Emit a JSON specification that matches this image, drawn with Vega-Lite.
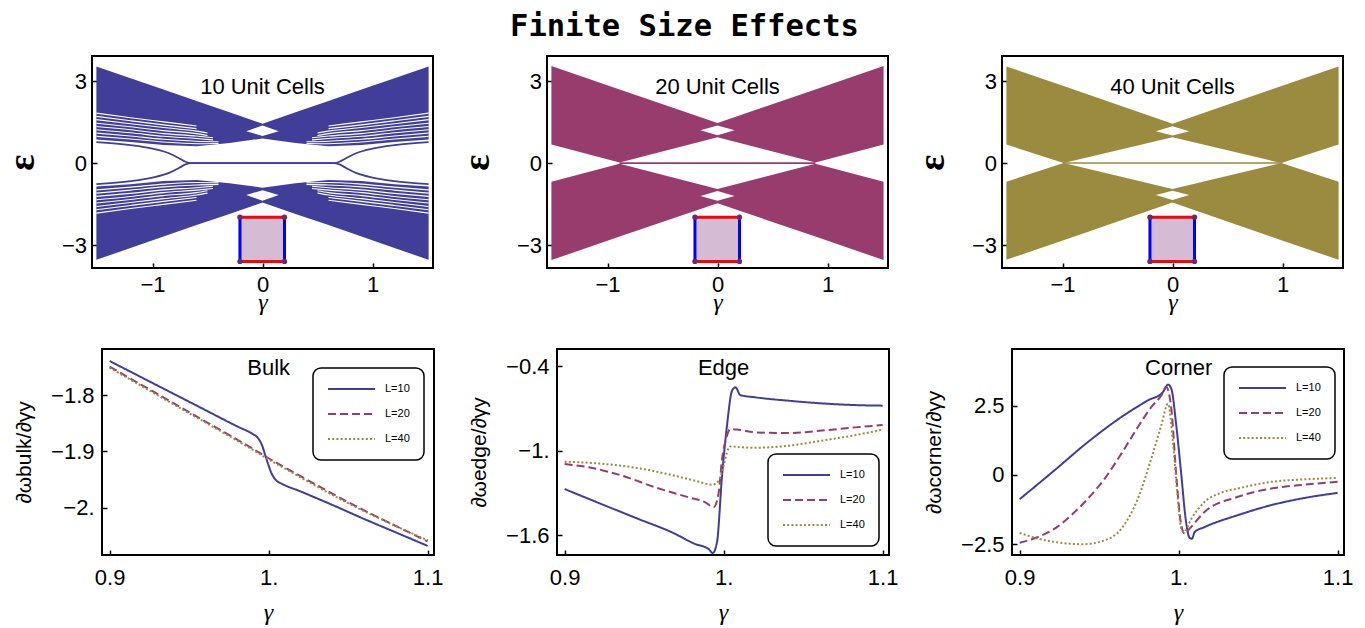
{
"$schema": "https://vega.github.io/schema/vega-lite/v6.json",
"padding": {"left": 0, "top": 11, "right": 5, "bottom": 2},
"title": {"text": "Finite Size Effects", "font": "DejaVu Sans Mono", "fontSize": 30.5, "fontWeight": "bold", "color": "black", "anchor": "middle", "frame": "bounds", "dx": 7.5, "offset": -11, "baseline": "alphabetic"},
"config": {
 "view": {"stroke": "black", "strokeWidth": 2},
 "font": "Liberation Sans",
 "axis": {"domain": false, "grid": false, "ticks": true, "tickSize": -5, "tickColor": "black", "tickWidth": 1.5, "labelColor": "black", "labelFont": "Liberation Sans", "labelFontSize": 22, "labelFlush": false, "labelOverlap": false, "titleColor": "black"},
 "text": {"font": "Liberation Sans", "color": "black"}
},
"datasets": {
 "p1": [
  {"k":"b","p":"u","x":-1.51,"y":3.54,"y2":0.86},{"k":"b","p":"u","x":-1.2,"y":3.11,"y2":0.77},{"k":"b","p":"u","x":-0.9,"y":2.69,"y2":0.66},{"k":"b","p":"u","x":-0.6,"y":2.27,"y2":0.62},{"k":"b","p":"u","x":-0.3,"y":1.86,"y2":0.74},{"k":"b","p":"u","x":0,"y":1.44,"y2":0.9},{"k":"b","p":"u","x":0.3,"y":1.86,"y2":0.74},{"k":"b","p":"u","x":0.6,"y":2.27,"y2":0.62},{"k":"b","p":"u","x":0.9,"y":2.69,"y2":0.66},{"k":"b","p":"u","x":1.2,"y":3.11,"y2":0.77},{"k":"b","p":"u","x":1.51,"y":3.54,"y2":0.86},
  {"k":"b","p":"l","x":-1.51,"y":-0.86,"y2":-3.54},{"k":"b","p":"l","x":-1.2,"y":-0.77,"y2":-3.11},{"k":"b","p":"l","x":-0.9,"y":-0.66,"y2":-2.69},{"k":"b","p":"l","x":-0.6,"y":-0.62,"y2":-2.27},{"k":"b","p":"l","x":-0.3,"y":-0.74,"y2":-1.86},{"k":"b","p":"l","x":0,"y":-0.9,"y2":-1.44},{"k":"b","p":"l","x":0.3,"y":-0.74,"y2":-1.86},{"k":"b","p":"l","x":0.6,"y":-0.62,"y2":-2.27},{"k":"b","p":"l","x":0.9,"y":-0.66,"y2":-2.69},{"k":"b","p":"l","x":1.2,"y":-0.77,"y2":-3.11},{"k":"b","p":"l","x":1.51,"y":-0.86,"y2":-3.54},
  {"k":"h","p":"u","x":-0.148,"y":1.17,"y2":1.17},{"k":"h","p":"u","x":0,"y":1.38,"y2":0.99},{"k":"h","p":"u","x":0.148,"y":1.17,"y2":1.17},
  {"k":"h","p":"l","x":-0.148,"y":-1.17,"y2":-1.17},{"k":"h","p":"l","x":0,"y":-0.99,"y2":-1.38},{"k":"h","p":"l","x":0.148,"y":-1.17,"y2":-1.17},
  {"k":"e","p":"eu","x":-1.51,"y":0.77},{"k":"e","p":"eu","x":-1.2,"y":0.66},{"k":"e","p":"eu","x":-1.0,"y":0.53},{"k":"e","p":"eu","x":-0.85,"y":0.36},{"k":"e","p":"eu","x":-0.76,"y":0.18},{"k":"e","p":"eu","x":-0.7,"y":0.05},{"k":"e","p":"eu","x":-0.65,"y":0},{"k":"e","p":"eu","x":0.65,"y":0},{"k":"e","p":"eu","x":0.7,"y":0.05},{"k":"e","p":"eu","x":0.76,"y":0.18},{"k":"e","p":"eu","x":0.85,"y":0.36},{"k":"e","p":"eu","x":1.0,"y":0.53},{"k":"e","p":"eu","x":1.2,"y":0.66},{"k":"e","p":"eu","x":1.51,"y":0.77},
  {"k":"e","p":"el","x":-1.51,"y":-0.77},{"k":"e","p":"el","x":-1.2,"y":-0.66},{"k":"e","p":"el","x":-1.0,"y":-0.53},{"k":"e","p":"el","x":-0.85,"y":-0.36},{"k":"e","p":"el","x":-0.76,"y":-0.18},{"k":"e","p":"el","x":-0.7,"y":-0.05},{"k":"e","p":"el","x":-0.65,"y":0},{"k":"e","p":"el","x":0.65,"y":0},{"k":"e","p":"el","x":0.7,"y":-0.05},{"k":"e","p":"el","x":0.76,"y":-0.18},{"k":"e","p":"el","x":0.85,"y":-0.36},{"k":"e","p":"el","x":1.0,"y":-0.53},{"k":"e","p":"el","x":1.2,"y":-0.66},{"k":"e","p":"el","x":1.51,"y":-0.77},
  {"k":"g","p":"a0","x":-1.51,"y":1.83},{"k":"g","p":"a0","x":-1.2,"y":1.66},{"k":"g","p":"a0","x":-0.9,"y":1.51},{"k":"g","p":"a0","x":-0.6,"y":1.36},
  {"k":"g","p":"a1","x":-1.51,"y":1.71},{"k":"g","p":"a1","x":-1.2,"y":1.55},{"k":"g","p":"a1","x":-0.9,"y":1.4},{"k":"g","p":"a1","x":-0.6,"y":1.26},
  {"k":"g","p":"a2","x":-1.51,"y":1.59},{"k":"g","p":"a2","x":-1.2,"y":1.44},{"k":"g","p":"a2","x":-0.9,"y":1.3},{"k":"g","p":"a2","x":-0.6,"y":1.17},{"k":"g","p":"a2","x":-0.5,"y":1.1},
  {"k":"g","p":"a3","x":-1.51,"y":1.46},{"k":"g","p":"a3","x":-1.2,"y":1.33},{"k":"g","p":"a3","x":-0.9,"y":1.19},{"k":"g","p":"a3","x":-0.6,"y":1.08},{"k":"g","p":"a3","x":-0.5,"y":1.01},
  {"k":"g","p":"a4","x":-1.51,"y":1.34},{"k":"g","p":"a4","x":-1.2,"y":1.22},{"k":"g","p":"a4","x":-0.9,"y":1.08},{"k":"g","p":"a4","x":-0.6,"y":0.99},{"k":"g","p":"a4","x":-0.45,"y":0.93},
  {"k":"g","p":"a5","x":-1.51,"y":1.22},{"k":"g","p":"a5","x":-1.2,"y":1.11},{"k":"g","p":"a5","x":-0.9,"y":0.98},{"k":"g","p":"a5","x":-0.6,"y":0.9},{"k":"g","p":"a5","x":-0.45,"y":0.85},
  {"k":"g","p":"a6","x":-1.51,"y":1.1},{"k":"g","p":"a6","x":-1.2,"y":0.99},{"k":"g","p":"a6","x":-0.9,"y":0.87},{"k":"g","p":"a6","x":-0.6,"y":0.8},{"k":"g","p":"a6","x":-0.4,"y":0.78},
  {"k":"g","p":"a7","x":-1.51,"y":0.98},{"k":"g","p":"a7","x":-1.2,"y":0.88},{"k":"g","p":"a7","x":-0.9,"y":0.77},{"k":"g","p":"a7","x":-0.6,"y":0.71},{"k":"g","p":"a7","x":-0.4,"y":0.72},
  {"k":"g","p":"b0","x":1.51,"y":1.83},{"k":"g","p":"b0","x":1.2,"y":1.66},{"k":"g","p":"b0","x":0.9,"y":1.51},{"k":"g","p":"b0","x":0.6,"y":1.36},
  {"k":"g","p":"b1","x":1.51,"y":1.71},{"k":"g","p":"b1","x":1.2,"y":1.55},{"k":"g","p":"b1","x":0.9,"y":1.4},{"k":"g","p":"b1","x":0.6,"y":1.26},
  {"k":"g","p":"b2","x":1.51,"y":1.59},{"k":"g","p":"b2","x":1.2,"y":1.44},{"k":"g","p":"b2","x":0.9,"y":1.3},{"k":"g","p":"b2","x":0.6,"y":1.17},{"k":"g","p":"b2","x":0.5,"y":1.1},
  {"k":"g","p":"b3","x":1.51,"y":1.46},{"k":"g","p":"b3","x":1.2,"y":1.33},{"k":"g","p":"b3","x":0.9,"y":1.19},{"k":"g","p":"b3","x":0.6,"y":1.08},{"k":"g","p":"b3","x":0.5,"y":1.01},
  {"k":"g","p":"b4","x":1.51,"y":1.34},{"k":"g","p":"b4","x":1.2,"y":1.22},{"k":"g","p":"b4","x":0.9,"y":1.08},{"k":"g","p":"b4","x":0.6,"y":0.99},{"k":"g","p":"b4","x":0.45,"y":0.93},
  {"k":"g","p":"b5","x":1.51,"y":1.22},{"k":"g","p":"b5","x":1.2,"y":1.11},{"k":"g","p":"b5","x":0.9,"y":0.98},{"k":"g","p":"b5","x":0.6,"y":0.9},{"k":"g","p":"b5","x":0.45,"y":0.85},
  {"k":"g","p":"b6","x":1.51,"y":1.1},{"k":"g","p":"b6","x":1.2,"y":0.99},{"k":"g","p":"b6","x":0.9,"y":0.87},{"k":"g","p":"b6","x":0.6,"y":0.8},{"k":"g","p":"b6","x":0.4,"y":0.78},
  {"k":"g","p":"b7","x":1.51,"y":0.98},{"k":"g","p":"b7","x":1.2,"y":0.88},{"k":"g","p":"b7","x":0.9,"y":0.77},{"k":"g","p":"b7","x":0.6,"y":0.71},{"k":"g","p":"b7","x":0.4,"y":0.72},
  {"k":"g","p":"c0","x":-1.51,"y":-1.83},{"k":"g","p":"c0","x":-1.2,"y":-1.66},{"k":"g","p":"c0","x":-0.9,"y":-1.51},{"k":"g","p":"c0","x":-0.6,"y":-1.36},
  {"k":"g","p":"c1","x":-1.51,"y":-1.71},{"k":"g","p":"c1","x":-1.2,"y":-1.55},{"k":"g","p":"c1","x":-0.9,"y":-1.4},{"k":"g","p":"c1","x":-0.6,"y":-1.26},
  {"k":"g","p":"c2","x":-1.51,"y":-1.59},{"k":"g","p":"c2","x":-1.2,"y":-1.44},{"k":"g","p":"c2","x":-0.9,"y":-1.3},{"k":"g","p":"c2","x":-0.6,"y":-1.17},{"k":"g","p":"c2","x":-0.5,"y":-1.1},
  {"k":"g","p":"c3","x":-1.51,"y":-1.46},{"k":"g","p":"c3","x":-1.2,"y":-1.33},{"k":"g","p":"c3","x":-0.9,"y":-1.19},{"k":"g","p":"c3","x":-0.6,"y":-1.08},{"k":"g","p":"c3","x":-0.5,"y":-1.01},
  {"k":"g","p":"c4","x":-1.51,"y":-1.34},{"k":"g","p":"c4","x":-1.2,"y":-1.22},{"k":"g","p":"c4","x":-0.9,"y":-1.08},{"k":"g","p":"c4","x":-0.6,"y":-0.99},{"k":"g","p":"c4","x":-0.45,"y":-0.93},
  {"k":"g","p":"c5","x":-1.51,"y":-1.22},{"k":"g","p":"c5","x":-1.2,"y":-1.11},{"k":"g","p":"c5","x":-0.9,"y":-0.98},{"k":"g","p":"c5","x":-0.6,"y":-0.9},{"k":"g","p":"c5","x":-0.45,"y":-0.85},
  {"k":"g","p":"c6","x":-1.51,"y":-1.1},{"k":"g","p":"c6","x":-1.2,"y":-0.99},{"k":"g","p":"c6","x":-0.9,"y":-0.87},{"k":"g","p":"c6","x":-0.6,"y":-0.8},{"k":"g","p":"c6","x":-0.4,"y":-0.78},
  {"k":"g","p":"c7","x":-1.51,"y":-0.98},{"k":"g","p":"c7","x":-1.2,"y":-0.88},{"k":"g","p":"c7","x":-0.9,"y":-0.77},{"k":"g","p":"c7","x":-0.6,"y":-0.71},{"k":"g","p":"c7","x":-0.4,"y":-0.72},
  {"k":"g","p":"d0","x":1.51,"y":-1.83},{"k":"g","p":"d0","x":1.2,"y":-1.66},{"k":"g","p":"d0","x":0.9,"y":-1.51},{"k":"g","p":"d0","x":0.6,"y":-1.36},
  {"k":"g","p":"d1","x":1.51,"y":-1.71},{"k":"g","p":"d1","x":1.2,"y":-1.55},{"k":"g","p":"d1","x":0.9,"y":-1.4},{"k":"g","p":"d1","x":0.6,"y":-1.26},
  {"k":"g","p":"d2","x":1.51,"y":-1.59},{"k":"g","p":"d2","x":1.2,"y":-1.44},{"k":"g","p":"d2","x":0.9,"y":-1.3},{"k":"g","p":"d2","x":0.6,"y":-1.17},{"k":"g","p":"d2","x":0.5,"y":-1.1},
  {"k":"g","p":"d3","x":1.51,"y":-1.46},{"k":"g","p":"d3","x":1.2,"y":-1.33},{"k":"g","p":"d3","x":0.9,"y":-1.19},{"k":"g","p":"d3","x":0.6,"y":-1.08},{"k":"g","p":"d3","x":0.5,"y":-1.01},
  {"k":"g","p":"d4","x":1.51,"y":-1.34},{"k":"g","p":"d4","x":1.2,"y":-1.22},{"k":"g","p":"d4","x":0.9,"y":-1.08},{"k":"g","p":"d4","x":0.6,"y":-0.99},{"k":"g","p":"d4","x":0.45,"y":-0.93},
  {"k":"g","p":"d5","x":1.51,"y":-1.22},{"k":"g","p":"d5","x":1.2,"y":-1.11},{"k":"g","p":"d5","x":0.9,"y":-0.98},{"k":"g","p":"d5","x":0.6,"y":-0.9},{"k":"g","p":"d5","x":0.45,"y":-0.85},
  {"k":"g","p":"d6","x":1.51,"y":-1.1},{"k":"g","p":"d6","x":1.2,"y":-0.99},{"k":"g","p":"d6","x":0.9,"y":-0.87},{"k":"g","p":"d6","x":0.6,"y":-0.8},{"k":"g","p":"d6","x":0.4,"y":-0.78},
  {"k":"g","p":"d7","x":1.51,"y":-0.98},{"k":"g","p":"d7","x":1.2,"y":-0.88},{"k":"g","p":"d7","x":0.9,"y":-0.77},{"k":"g","p":"d7","x":0.6,"y":-0.71},{"k":"g","p":"d7","x":0.4,"y":-0.72}
 ],
 "p2": [
  {"k":"b","p":"u","x":-1.51,"y":3.55,"y2":0.68},{"k":"b","p":"u","x":-0.89,"y":2.69,"y2":0.02},{"k":"b","p":"u","x":0,"y":1.47,"y2":0.95},{"k":"b","p":"u","x":0.89,"y":2.69,"y2":0.02},{"k":"b","p":"u","x":1.51,"y":3.55,"y2":0.68},
  {"k":"b","p":"l","x":-1.51,"y":-0.68,"y2":-3.55},{"k":"b","p":"l","x":-0.89,"y":-0.02,"y2":-2.69},{"k":"b","p":"l","x":0,"y":-0.95,"y2":-1.47},{"k":"b","p":"l","x":0.89,"y":-0.02,"y2":-2.69},{"k":"b","p":"l","x":1.51,"y":-0.68,"y2":-3.55},
  {"k":"h","p":"u","x":-0.155,"y":1.2,"y2":1.2},{"k":"h","p":"u","x":0,"y":1.38,"y2":1.02},{"k":"h","p":"u","x":0.155,"y":1.2,"y2":1.2},
  {"k":"h","p":"l","x":-0.155,"y":-1.2,"y2":-1.2},{"k":"h","p":"l","x":0,"y":-1.02,"y2":-1.38},{"k":"h","p":"l","x":0.155,"y":-1.2,"y2":-1.2},
  {"k":"e","p":"z","x":-0.89,"y":0},{"k":"e","p":"z","x":0.89,"y":0}
 ],
 "p3": [
  {"k":"b","p":"u","x":-1.51,"y":3.54,"y2":0.68},{"k":"b","p":"u","x":-0.99,"y":2.82,"y2":0},{"k":"b","p":"u","x":0,"y":1.44,"y2":0.95},{"k":"b","p":"u","x":0.99,"y":2.82,"y2":0},{"k":"b","p":"u","x":1.51,"y":3.54,"y2":0.68},
  {"k":"b","p":"l","x":-1.51,"y":-0.68,"y2":-3.54},{"k":"b","p":"l","x":-0.99,"y":0,"y2":-2.82},{"k":"b","p":"l","x":0,"y":-0.95,"y2":-1.44},{"k":"b","p":"l","x":0.99,"y":0,"y2":-2.82},{"k":"b","p":"l","x":1.51,"y":-0.68,"y2":-3.54},
  {"k":"h","p":"u","x":-0.152,"y":1.17,"y2":1.17},{"k":"h","p":"u","x":0,"y":1.35,"y2":1.01},{"k":"h","p":"u","x":0.152,"y":1.17,"y2":1.17},
  {"k":"h","p":"l","x":-0.152,"y":-1.17,"y2":-1.17},{"k":"h","p":"l","x":0,"y":-1.01,"y2":-1.35},{"k":"h","p":"l","x":0.152,"y":-1.17,"y2":-1.17},
  {"k":"e","p":"z","x":-0.99,"y":0},{"k":"e","p":"z","x":0.99,"y":0}
 ],
 "corners": [{"cx":-0.205,"cy":-1.98},{"cx":0.2,"cy":-1.98},{"cx":-0.205,"cy":-3.6},{"cx":0.2,"cy":-3.6}],
 "bulk": [
  {"L":"L=10","g":0.9,"v":-1.739},{"L":"L=10","g":0.92,"v":-1.768},{"L":"L=10","g":0.94,"v":-1.797},{"L":"L=10","g":0.96,"v":-1.826},{"L":"L=10","g":0.98,"v":-1.855},{"L":"L=10","g":0.99,"v":-1.869},{"L":"L=10","g":0.993,"v":-1.875},{"L":"L=10","g":0.996,"v":-1.89},{"L":"L=10","g":0.998,"v":-1.908},{"L":"L=10","g":1.0,"v":-1.925},{"L":"L=10","g":1.002,"v":-1.94},{"L":"L=10","g":1.005,"v":-1.952},{"L":"L=10","g":1.008,"v":-1.957},{"L":"L=10","g":1.02,"v":-1.971},{"L":"L=10","g":1.04,"v":-1.995},{"L":"L=10","g":1.06,"v":-2.02},{"L":"L=10","g":1.08,"v":-2.044},{"L":"L=10","g":1.1,"v":-2.068},
  {"L":"L=20","g":0.9,"v":-1.749},{"L":"L=20","g":0.95,"v":-1.83},{"L":"L=20","g":0.99,"v":-1.895},{"L":"L=20","g":1.0,"v":-1.912},{"L":"L=20","g":1.01,"v":-1.928},{"L":"L=20","g":1.05,"v":-1.99},{"L":"L=20","g":1.1,"v":-2.06},
  {"L":"L=40","g":0.9,"v":-1.751},{"L":"L=40","g":0.95,"v":-1.832},{"L":"L=40","g":0.99,"v":-1.897},{"L":"L=40","g":1.0,"v":-1.914},{"L":"L=40","g":1.01,"v":-1.93},{"L":"L=40","g":1.05,"v":-1.992},{"L":"L=40","g":1.1,"v":-2.058}
 ],
 "edge": [
  {"L":"L=10","g":0.9,"v":-1.272},{"L":"L=10","g":0.9256,"v":-1.39},{"L":"L=10","g":0.9466,"v":-1.485},{"L":"L=10","g":0.9675,"v":-1.579},{"L":"L=10","g":0.9822,"v":-1.662},{"L":"L=10","g":0.9906,"v":-1.697},{"L":"L=10","g":0.9931,"v":-1.726},{"L":"L=10","g":0.9958,"v":-1.65},{"L":"L=10","g":0.999,"v":-1.177},{"L":"L=10","g":1.0021,"v":-0.823},{"L":"L=10","g":1.0053,"v":-0.575},{"L":"L=10","g":1.0074,"v":-0.551},{"L":"L=10","g":1.0105,"v":-0.606},{"L":"L=10","g":1.0199,"v":-0.622},{"L":"L=10","g":1.0408,"v":-0.646},{"L":"L=10","g":1.0618,"v":-0.665},{"L":"L=10","g":1.0828,"v":-0.677},{"L":"L=10","g":1.1,"v":-0.681},
  {"L":"L=20","g":0.9,"v":-1.095},{"L":"L=20","g":0.9151,"v":-1.118},{"L":"L=20","g":0.936,"v":-1.177},{"L":"L=20","g":0.957,"v":-1.26},{"L":"L=20","g":0.978,"v":-1.331},{"L":"L=20","g":0.9885,"v":-1.366},{"L":"L=20","g":0.9937,"v":-1.402},{"L":"L=20","g":0.9969,"v":-1.296},{"L":"L=20","g":0.999,"v":-1.059},{"L":"L=20","g":1.0015,"v":-0.918},{"L":"L=20","g":1.0042,"v":-0.847},{"L":"L=20","g":1.0094,"v":-0.851},{"L":"L=20","g":1.0199,"v":-0.87},{"L":"L=20","g":1.0408,"v":-0.875},{"L":"L=20","g":1.0618,"v":-0.858},{"L":"L=20","g":1.0828,"v":-0.835},{"L":"L=20","g":1.1,"v":-0.819},
  {"L":"L=40","g":0.9,"v":-1.078},{"L":"L=40","g":0.9256,"v":-1.095},{"L":"L=40","g":0.9466,"v":-1.125},{"L":"L=40","g":0.9675,"v":-1.173},{"L":"L=40","g":0.9822,"v":-1.213},{"L":"L=40","g":0.9927,"v":-1.241},{"L":"L=40","g":0.9969,"v":-1.213},{"L":"L=40","g":1.0,"v":-1.106},{"L":"L=40","g":1.0021,"v":-1.012},{"L":"L=40","g":1.0042,"v":-0.97},{"L":"L=40","g":1.0094,"v":-0.975},{"L":"L=40","g":1.0199,"v":-0.979},{"L":"L=40","g":1.0408,"v":-0.965},{"L":"L=40","g":1.0618,"v":-0.929},{"L":"L=40","g":1.0828,"v":-0.89},{"L":"L=40","g":1.1,"v":-0.851}
 ],
 "corner": [
  {"L":"L=10","g":0.9,"v":-0.876},{"L":"L=10","g":0.922,"v":0.17},{"L":"L=10","g":0.943,"v":1.19},{"L":"L=10","g":0.964,"v":2.09},{"L":"L=10","g":0.9807,"v":2.69},{"L":"L=10","g":0.9901,"v":2.99},{"L":"L=10","g":0.9933,"v":3.26},{"L":"L=10","g":0.9954,"v":3.11},{"L":"L=10","g":0.9985,"v":1.79},{"L":"L=10","g":1.0017,"v":-0.01},{"L":"L=10","g":1.0044,"v":-1.58},{"L":"L=10","g":1.0069,"v":-2.27},{"L":"L=10","g":1.0084,"v":-2.3},{"L":"L=10","g":1.0101,"v":-2.06},{"L":"L=10","g":1.0164,"v":-1.88},{"L":"L=10","g":1.0373,"v":-1.45},{"L":"L=10","g":1.0583,"v":-1.09},{"L":"L=10","g":1.0793,"v":-0.83},{"L":"L=10","g":1.1,"v":-0.65},
  {"L":"L=20","g":0.9,"v":-2.45},{"L":"L=20","g":0.9115,"v":-2.24},{"L":"L=20","g":0.922,"v":-1.94},{"L":"L=20","g":0.9325,"v":-1.45},{"L":"L=20","g":0.943,"v":-0.85},{"L":"L=20","g":0.9535,"v":-0.13},{"L":"L=20","g":0.964,"v":0.77},{"L":"L=20","g":0.9744,"v":1.73},{"L":"L=20","g":0.9828,"v":2.45},{"L":"L=20","g":0.9891,"v":2.87},{"L":"L=20","g":0.9922,"v":3.17},{"L":"L=20","g":0.9954,"v":2.39},{"L":"L=20","g":0.9985,"v":-0.01},{"L":"L=20","g":1.0013,"v":-1.69},{"L":"L=20","g":1.0038,"v":-2.12},{"L":"L=20","g":1.0069,"v":-1.94},{"L":"L=20","g":1.0164,"v":-1.33},{"L":"L=20","g":1.0373,"v":-0.79},{"L":"L=20","g":1.0583,"v":-0.49},{"L":"L=20","g":1.0793,"v":-0.35},{"L":"L=20","g":1.1,"v":-0.25},
  {"L":"L=40","g":0.9,"v":-2.09},{"L":"L=40","g":0.9115,"v":-2.3},{"L":"L=40","g":0.922,"v":-2.42},{"L":"L=40","g":0.94,"v":-2.5},{"L":"L=40","g":0.9535,"v":-2.36},{"L":"L=40","g":0.964,"v":-1.94},{"L":"L=40","g":0.9744,"v":-0.85},{"L":"L=40","g":0.9828,"v":0.59},{"L":"L=40","g":0.9891,"v":1.79},{"L":"L=40","g":0.9933,"v":2.57},{"L":"L=40","g":0.9964,"v":1.19},{"L":"L=40","g":0.9991,"v":-0.61},{"L":"L=40","g":1.0017,"v":-1.94},{"L":"L=40","g":1.0034,"v":-2.06},{"L":"L=40","g":1.008,"v":-1.58},{"L":"L=40","g":1.0164,"v":-0.97},{"L":"L=40","g":1.0268,"v":-0.64},{"L":"L=40","g":1.0373,"v":-0.49},{"L":"L=40","g":1.0583,"v":-0.25},{"L":"L=40","g":1.0793,"v":-0.16},{"L":"L=40","g":1.1,"v":-0.11}
 ]
},
"vconcat": [
 {"hconcat": [
  {"width": 91.5, "height": 262, "view": {"stroke": null}, "data": {"values": [{}]}, "mark": {"type": "point", "opacity": 0}},
  {"hconcat": [
  {"width": 341, "height": 212, "data": {"name": "p1"},
   "layer": [
    {"transform": [{"filter": "datum.k == 'b'"}], "mark": {"type": "area", "color": "#403e98", "clip": true},
     "encoding": {
      "x": {"field": "x", "type": "quantitative", "scale": {"domain": [-1.55, 1.55], "nice": false, "zero": false}, "axis": {"values": [-1, 0, 1], "labelExpr": "format(datum.value, 'd')", "labelPadding": 11.7, "title": "γ", "titleY": 41, "titleBaseline": "alphabetic", "titleFont": "Liberation Serif", "titleFontStyle": "italic", "titleFontSize": 24, "titleFontWeight": "normal"}},
      "y": {"field": "y", "type": "quantitative", "scale": {"domain": [-3.84, 3.92], "nice": false, "zero": false}, "axis": {"values": [-3, 0, 3], "labelExpr": "format(datum.value, 'd')", "labelPadding": 10.5, "title": "ε", "titleX": -70, "titleY": 106, "titleAngle": -90, "titleBaseline": "middle", "titleAlign": "center", "titleFont": "Liberation Serif", "titleFontWeight": "bold", "titleFontSize": 38}},
      "y2": {"field": "y2"}, "detail": {"field": "p"}}},
    {"transform": [{"filter": "datum.k == 'h'"}], "mark": {"type": "area", "color": "white", "clip": true},
     "encoding": {"x": {"field": "x", "type": "quantitative"}, "y": {"field": "y", "type": "quantitative"}, "y2": {"field": "y2"}, "detail": {"field": "p"}}},
    {"transform": [{"filter": "datum.k == 'g'"}], "mark": {"type": "line", "color": "white", "strokeWidth": 1.1, "interpolate": "monotone", "clip": true},
     "encoding": {"x": {"field": "x", "type": "quantitative"}, "y": {"field": "y", "type": "quantitative"}, "detail": {"field": "p"}}},
    {"transform": [{"filter": "datum.k == 'e'"}], "mark": {"type": "line", "color": "#403e98", "strokeWidth": 1.8, "interpolate": "monotone", "clip": true},
     "encoding": {"x": {"field": "x", "type": "quantitative"}, "y": {"field": "y", "type": "quantitative"}, "detail": {"field": "p"}}},
    {"data": {"values": [{}]}, "mark": {"type": "rect", "color": "#d5bbd3"}, "encoding": {"x": {"datum": -0.205}, "x2": {"datum": 0.2}, "y": {"datum": -1.98}, "y2": {"datum": -3.6}}},
    {"data": {"values": [{}]}, "mark": {"type": "rule", "color": "#0000ff", "strokeWidth": 3}, "encoding": {"x": {"datum": -0.205}, "y": {"datum": -1.98}, "y2": {"datum": -3.6}}},
    {"data": {"values": [{}]}, "mark": {"type": "rule", "color": "#0000ff", "strokeWidth": 3}, "encoding": {"x": {"datum": 0.2}, "y": {"datum": -1.98}, "y2": {"datum": -3.6}}},
    {"data": {"values": [{}]}, "mark": {"type": "rule", "color": "#ff0000", "strokeWidth": 3}, "encoding": {"x": {"datum": -0.205}, "x2": {"datum": 0.2}, "y": {"datum": -1.98}}},
    {"data": {"values": [{}]}, "mark": {"type": "rule", "color": "#ff0000", "strokeWidth": 3}, "encoding": {"x": {"datum": -0.205}, "x2": {"datum": 0.2}, "y": {"datum": -3.6}}},
    {"data": {"name": "corners"}, "mark": {"type": "point", "filled": true, "color": "#6b2a6b", "size": 28, "opacity": 1}, "encoding": {"x": {"field": "cx", "type": "quantitative"}, "y": {"field": "cy", "type": "quantitative"}}},
    {"data": {"values": [{}]}, "mark": {"type": "text", "text": "10 Unit Cells", "fontSize": 22, "baseline": "alphabetic", "align": "center"}, "encoding": {"x": {"datum": 0}, "y": {"datum": 2.52}}}
   ]},
  {"width": 341, "height": 212, "data": {"name": "p2"},
   "layer": [
    {"transform": [{"filter": "datum.k == 'b'"}], "mark": {"type": "area", "color": "#983c6e", "clip": true},
     "encoding": {
      "x": {"field": "x", "type": "quantitative", "scale": {"domain": [-1.55, 1.55], "nice": false, "zero": false}, "axis": {"values": [-1, 0, 1], "labelExpr": "format(datum.value, 'd')", "labelPadding": 11.7, "title": "γ", "titleY": 41, "titleBaseline": "alphabetic", "titleFont": "Liberation Serif", "titleFontStyle": "italic", "titleFontSize": 24, "titleFontWeight": "normal"}},
      "y": {"field": "y", "type": "quantitative", "scale": {"domain": [-3.84, 3.92], "nice": false, "zero": false}, "axis": {"values": [-3, 0, 3], "labelExpr": "format(datum.value, 'd')", "labelPadding": 10.5, "title": "ε", "titleX": -70, "titleY": 106, "titleAngle": -90, "titleBaseline": "middle", "titleAlign": "center", "titleFont": "Liberation Serif", "titleFontWeight": "bold", "titleFontSize": 38}},
      "y2": {"field": "y2"}, "detail": {"field": "p"}}},
    {"transform": [{"filter": "datum.k == 'h'"}], "mark": {"type": "area", "color": "white", "clip": true},
     "encoding": {"x": {"field": "x", "type": "quantitative"}, "y": {"field": "y", "type": "quantitative"}, "y2": {"field": "y2"}, "detail": {"field": "p"}}},
    {"transform": [{"filter": "datum.k == 'e'"}], "mark": {"type": "line", "color": "#983c6e", "strokeWidth": 1.8, "clip": true},
     "encoding": {"x": {"field": "x", "type": "quantitative"}, "y": {"field": "y", "type": "quantitative"}, "detail": {"field": "p"}}},
    {"data": {"values": [{}]}, "mark": {"type": "rect", "color": "#d5bbd3"}, "encoding": {"x": {"datum": -0.205}, "x2": {"datum": 0.2}, "y": {"datum": -1.98}, "y2": {"datum": -3.6}}},
    {"data": {"values": [{}]}, "mark": {"type": "rule", "color": "#0000ff", "strokeWidth": 3}, "encoding": {"x": {"datum": -0.205}, "y": {"datum": -1.98}, "y2": {"datum": -3.6}}},
    {"data": {"values": [{}]}, "mark": {"type": "rule", "color": "#0000ff", "strokeWidth": 3}, "encoding": {"x": {"datum": 0.2}, "y": {"datum": -1.98}, "y2": {"datum": -3.6}}},
    {"data": {"values": [{}]}, "mark": {"type": "rule", "color": "#ff0000", "strokeWidth": 3}, "encoding": {"x": {"datum": -0.205}, "x2": {"datum": 0.2}, "y": {"datum": -1.98}}},
    {"data": {"values": [{}]}, "mark": {"type": "rule", "color": "#ff0000", "strokeWidth": 3}, "encoding": {"x": {"datum": -0.205}, "x2": {"datum": 0.2}, "y": {"datum": -3.6}}},
    {"data": {"name": "corners"}, "mark": {"type": "point", "filled": true, "color": "#6b2a6b", "size": 28, "opacity": 1}, "encoding": {"x": {"field": "cx", "type": "quantitative"}, "y": {"field": "cy", "type": "quantitative"}}},
    {"data": {"values": [{}]}, "mark": {"type": "text", "text": "20 Unit Cells", "fontSize": 22, "baseline": "alphabetic", "align": "center"}, "encoding": {"x": {"datum": 0}, "y": {"datum": 2.52}}}
   ]},
  {"width": 341, "height": 212, "data": {"name": "p3"},
   "layer": [
    {"transform": [{"filter": "datum.k == 'b'"}], "mark": {"type": "area", "color": "#9a8b3f", "clip": true},
     "encoding": {
      "x": {"field": "x", "type": "quantitative", "scale": {"domain": [-1.55, 1.55], "nice": false, "zero": false}, "axis": {"values": [-1, 0, 1], "labelExpr": "format(datum.value, 'd')", "labelPadding": 11.7, "title": "γ", "titleY": 41, "titleBaseline": "alphabetic", "titleFont": "Liberation Serif", "titleFontStyle": "italic", "titleFontSize": 24, "titleFontWeight": "normal"}},
      "y": {"field": "y", "type": "quantitative", "scale": {"domain": [-3.84, 3.92], "nice": false, "zero": false}, "axis": {"values": [-3, 0, 3], "labelExpr": "format(datum.value, 'd')", "labelPadding": 10.5, "title": "ε", "titleX": -70, "titleY": 106, "titleAngle": -90, "titleBaseline": "middle", "titleAlign": "center", "titleFont": "Liberation Serif", "titleFontWeight": "bold", "titleFontSize": 38}},
      "y2": {"field": "y2"}, "detail": {"field": "p"}}},
    {"transform": [{"filter": "datum.k == 'h'"}], "mark": {"type": "area", "color": "white", "clip": true},
     "encoding": {"x": {"field": "x", "type": "quantitative"}, "y": {"field": "y", "type": "quantitative"}, "y2": {"field": "y2"}, "detail": {"field": "p"}}},
    {"transform": [{"filter": "datum.k == 'e'"}], "mark": {"type": "line", "color": "#9a8b3f", "strokeWidth": 1.5, "clip": true},
     "encoding": {"x": {"field": "x", "type": "quantitative"}, "y": {"field": "y", "type": "quantitative"}, "detail": {"field": "p"}}},
    {"data": {"values": [{}]}, "mark": {"type": "rect", "color": "#d5bbd3"}, "encoding": {"x": {"datum": -0.205}, "x2": {"datum": 0.2}, "y": {"datum": -1.98}, "y2": {"datum": -3.6}}},
    {"data": {"values": [{}]}, "mark": {"type": "rule", "color": "#0000ff", "strokeWidth": 3}, "encoding": {"x": {"datum": -0.205}, "y": {"datum": -1.98}, "y2": {"datum": -3.6}}},
    {"data": {"values": [{}]}, "mark": {"type": "rule", "color": "#0000ff", "strokeWidth": 3}, "encoding": {"x": {"datum": 0.2}, "y": {"datum": -1.98}, "y2": {"datum": -3.6}}},
    {"data": {"values": [{}]}, "mark": {"type": "rule", "color": "#ff0000", "strokeWidth": 3}, "encoding": {"x": {"datum": -0.205}, "x2": {"datum": 0.2}, "y": {"datum": -1.98}}},
    {"data": {"values": [{}]}, "mark": {"type": "rule", "color": "#ff0000", "strokeWidth": 3}, "encoding": {"x": {"datum": -0.205}, "x2": {"datum": 0.2}, "y": {"datum": -3.6}}},
    {"data": {"name": "corners"}, "mark": {"type": "point", "filled": true, "color": "#6b2a6b", "size": 28, "opacity": 1}, "encoding": {"x": {"field": "cx", "type": "quantitative"}, "y": {"field": "cy", "type": "quantitative"}}},
    {"data": {"values": [{}]}, "mark": {"type": "text", "text": "40 Unit Cells", "fontSize": 22, "baseline": "alphabetic", "align": "center"}, "encoding": {"x": {"datum": 0}, "y": {"datum": 2.52}}}
   ]}
  ], "spacing": 114, "bounds": "flush",
  "resolve": {"scale": {"x": "independent", "y": "independent"}}}
 ], "spacing": 0, "bounds": "flush",
 "resolve": {"scale": {"x": "independent", "y": "independent"}}},
 {"hconcat": [
  {"width": 101.7, "height": 206, "view": {"stroke": null}, "data": {"values": [{}]}, "mark": {"type": "point", "opacity": 0}},
  {"hconcat": [
   {"width": 332, "height": 206, "data": {"name": "bulk"},
    "layer": [
     {"mark": {"type": "line", "strokeWidth": 2, "interpolate": "monotone", "clip": true},
      "encoding": {
       "x": {"field": "g", "type": "quantitative", "scale": {"domain": [0.8952, 1.104], "nice": false, "zero": false}, "axis": {"values": [0.9, 1, 1.1], "labelExpr": "datum.value == 1 ? '1.' : format(datum.value, '.1f')", "labelPadding": 17.4, "title": "γ", "titleY": 64.5, "titleBaseline": "alphabetic", "titleFont": "Liberation Serif", "titleFontStyle": "italic", "titleFontSize": 24, "titleFontWeight": "normal"}},
       "y": {"field": "v", "type": "quantitative", "scale": {"domain": [-2.0842, -1.7176], "nice": false, "zero": false}, "axis": {"values": [-2, -1.9, -1.8], "labelExpr": "datum.value == -2 ? '−2.' : format(datum.value, '.1f')", "labelPadding": 13, "title": "∂ωbulk/∂γy", "titleX": -77.5, "titleY": 103, "titleAngle": -90, "titleBaseline": "middle", "titleAlign": "center", "titleFont": "Liberation Sans", "titleFontSize": 21, "titleFontWeight": "normal"}},
       "color": {"field": "L", "type": "nominal", "scale": {"domain": ["L=10", "L=20", "L=40"], "range": ["#403e98", "#983c6e", "#9a8b3f"]}, "legend": {"title": null, "orient": "none", "legendX": 211, "legendY": 19, "direction": "vertical", "symbolType": "stroke", "symbolSize": 2209, "symbolStrokeWidth": 2, "clipHeight": 14, "rowPadding": 11, "labelOffset": 9, "labelFontSize": 11, "labelFont": "Liberation Sans", "labelColor": "black", "padding": 14, "fillColor": "white", "strokeColor": "black", "cornerRadius": 8, "symbolOffset": 0, "encode": {"legend": {"update": {"strokeWidth": {"value": 1.5}}}}}},
       "strokeDash": {"field": "L", "type": "nominal", "scale": {"domain": ["L=10", "L=20", "L=40"], "range": [[1, 0], [8, 4], [2, 2.2]]}, "legend": {"title": null, "orient": "none", "legendX": 211, "legendY": 19, "direction": "vertical", "symbolType": "stroke", "symbolSize": 2209, "symbolStrokeWidth": 2, "clipHeight": 14, "rowPadding": 11, "labelOffset": 9, "labelFontSize": 11, "labelFont": "Liberation Sans", "labelColor": "black", "padding": 14, "fillColor": "white", "strokeColor": "black", "cornerRadius": 8, "symbolOffset": 0, "encode": {"legend": {"update": {"strokeWidth": {"value": 1.5}}}}}}
      }},
     {"data": {"values": [{}]}, "mark": {"type": "text", "text": "Bulk", "fontSize": 22, "baseline": "alphabetic", "align": "center"}, "encoding": {"x": {"datum": 1}, "y": {"datum": -1.764}}}
    ]},
   {"width": 332, "height": 206, "data": {"name": "edge"},
    "layer": [
     {"mark": {"type": "line", "strokeWidth": 2, "interpolate": "monotone", "clip": true},
      "encoding": {
       "x": {"field": "g", "type": "quantitative", "scale": {"domain": [0.8952, 1.104], "nice": false, "zero": false}, "axis": {"values": [0.9, 1, 1.1], "labelExpr": "datum.value == 1 ? '1.' : format(datum.value, '.1f')", "labelPadding": 17.4, "title": "γ", "titleY": 64.5, "titleBaseline": "alphabetic", "titleFont": "Liberation Serif", "titleFontStyle": "italic", "titleFontSize": 24, "titleFontWeight": "normal"}},
       "y": {"field": "v", "type": "quantitative", "scale": {"domain": [-1.7396, -0.2795], "nice": false, "zero": false}, "axis": {"values": [-1.6, -1, -0.4], "labelExpr": "datum.value == -1 ? '−1.' : format(datum.value, '.1f')", "labelPadding": 13, "title": "∂ωedge/∂γy", "titleX": -77.5, "titleY": 103, "titleAngle": -90, "titleBaseline": "middle", "titleAlign": "center", "titleFont": "Liberation Sans", "titleFontSize": 21, "titleFontWeight": "normal"}},
       "color": {"field": "L", "type": "nominal", "scale": {"domain": ["L=10", "L=20", "L=40"], "range": ["#403e98", "#983c6e", "#9a8b3f"]}, "legend": {"title": null, "orient": "none", "legendX": 211, "legendY": 105, "direction": "vertical", "symbolType": "stroke", "symbolSize": 2209, "symbolStrokeWidth": 2, "clipHeight": 14, "rowPadding": 11, "labelOffset": 9, "labelFontSize": 11, "labelFont": "Liberation Sans", "labelColor": "black", "padding": 14, "fillColor": "white", "strokeColor": "black", "cornerRadius": 8, "symbolOffset": 0, "encode": {"legend": {"update": {"strokeWidth": {"value": 1.5}}}}}},
       "strokeDash": {"field": "L", "type": "nominal", "scale": {"domain": ["L=10", "L=20", "L=40"], "range": [[1, 0], [8, 4], [2, 2.2]]}, "legend": {"title": null, "orient": "none", "legendX": 211, "legendY": 105, "direction": "vertical", "symbolType": "stroke", "symbolSize": 2209, "symbolStrokeWidth": 2, "clipHeight": 14, "rowPadding": 11, "labelOffset": 9, "labelFontSize": 11, "labelFont": "Liberation Sans", "labelColor": "black", "padding": 14, "fillColor": "white", "strokeColor": "black", "cornerRadius": 8, "symbolOffset": 0, "encode": {"legend": {"update": {"strokeWidth": {"value": 1.5}}}}}}
      }},
     {"data": {"values": [{}]}, "mark": {"type": "text", "text": "Edge", "fontSize": 22, "baseline": "alphabetic", "align": "center"}, "encoding": {"x": {"datum": 1}, "y": {"datum": -0.466}}}
    ]},
   {"width": 332, "height": 206, "data": {"name": "corner"},
    "layer": [
     {"mark": {"type": "line", "strokeWidth": 2, "interpolate": "monotone", "clip": true},
      "encoding": {
       "x": {"field": "g", "type": "quantitative", "scale": {"domain": [0.8952, 1.104], "nice": false, "zero": false}, "axis": {"values": [0.9, 1, 1.1], "labelExpr": "datum.value == 1 ? '1.' : format(datum.value, '.1f')", "labelPadding": 17.4, "title": "γ", "titleY": 64.5, "titleBaseline": "alphabetic", "titleFont": "Liberation Serif", "titleFontStyle": "italic", "titleFontSize": 24, "titleFontWeight": "normal"}},
       "y": {"field": "v", "type": "quantitative", "scale": {"domain": [-2.89, 4.545], "nice": false, "zero": false}, "axis": {"values": [-2.5, 0, 2.5], "labelExpr": "datum.value == 0 ? '0' : format(datum.value, '.1f')", "labelPadding": 13, "title": "∂ωcorner/∂γy", "titleX": -77.5, "titleY": 103, "titleAngle": -90, "titleBaseline": "middle", "titleAlign": "center", "titleFont": "Liberation Sans", "titleFontSize": 21, "titleFontWeight": "normal"}},
       "color": {"field": "L", "type": "nominal", "scale": {"domain": ["L=10", "L=20", "L=40"], "range": ["#403e98", "#983c6e", "#9a8b3f"]}, "legend": {"title": null, "orient": "none", "legendX": 212, "legendY": 18, "direction": "vertical", "symbolType": "stroke", "symbolSize": 2209, "symbolStrokeWidth": 2, "clipHeight": 14, "rowPadding": 11, "labelOffset": 9, "labelFontSize": 11, "labelFont": "Liberation Sans", "labelColor": "black", "padding": 14, "fillColor": "white", "strokeColor": "black", "cornerRadius": 8, "symbolOffset": 0, "encode": {"legend": {"update": {"strokeWidth": {"value": 1.5}}}}}},
       "strokeDash": {"field": "L", "type": "nominal", "scale": {"domain": ["L=10", "L=20", "L=40"], "range": [[1, 0], [8, 4], [2, 2.2]]}, "legend": {"title": null, "orient": "none", "legendX": 212, "legendY": 18, "direction": "vertical", "symbolType": "stroke", "symbolSize": 2209, "symbolStrokeWidth": 2, "clipHeight": 14, "rowPadding": 11, "labelOffset": 9, "labelFontSize": 11, "labelFont": "Liberation Sans", "labelColor": "black", "padding": 14, "fillColor": "white", "strokeColor": "black", "cornerRadius": 8, "symbolOffset": 0, "encode": {"legend": {"update": {"strokeWidth": {"value": 1.5}}}}}}
      }},
     {"data": {"values": [{}]}, "mark": {"type": "text", "text": "Corner", "fontSize": 22, "baseline": "alphabetic", "align": "center"}, "encoding": {"x": {"datum": 1}, "y": {"datum": 3.6}}}
    ]}
  ], "spacing": 123, "bounds": "flush",
  "resolve": {"scale": {"x": "independent", "y": "independent", "color": "independent", "strokeDash": "independent"}, "legend": {"color": "independent", "strokeDash": "independent"}}}
 ], "spacing": 0, "bounds": "flush",
 "resolve": {"scale": {"x": "independent", "y": "independent", "color": "independent", "strokeDash": "independent"}, "legend": {"color": "independent", "strokeDash": "independent"}}}
],
"spacing": 30, "bounds": "full",
"resolve": {"scale": {"x": "independent", "y": "independent", "color": "independent", "strokeDash": "independent"}, "legend": {"color": "independent", "strokeDash": "independent"}}
}
